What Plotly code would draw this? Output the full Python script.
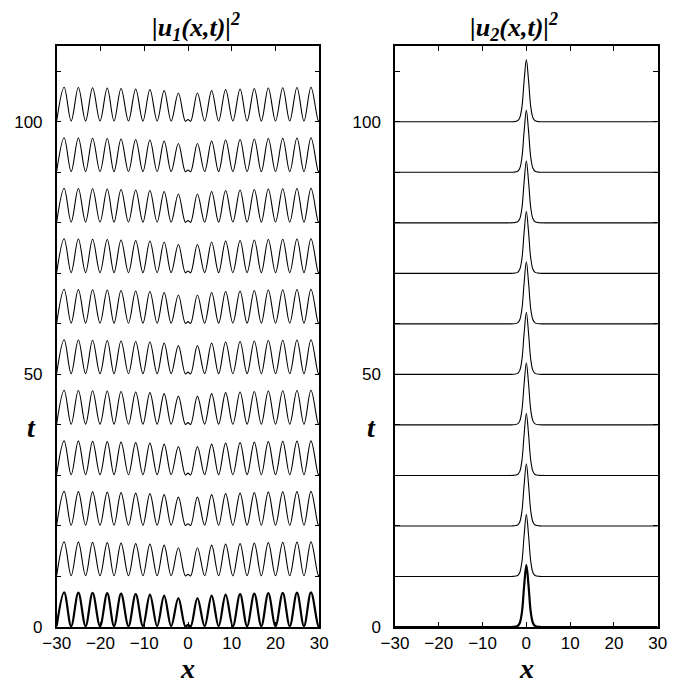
import plotly.graph_objects as go

# baseline times of the stacked profiles
t_levels = [0, 10, 20, 30, 40, 50, 60, 70, 80, 90, 100]

# |u1|^2 profile: knots (peaks / troughs)
u1_x = [-30.0, -28.3, -26.7, -25.05, -23.4, -21.8, -20.1, -18.45, -16.9, -15.3,
        -13.6, -11.95, -10.3, -8.7, -7.05, -5.45, -3.85, -2.2, -0.6, 0.0,
        0.6, 2.15, 3.8, 5.4, 7.0, 8.6, 10.25, 11.9, 13.5, 15.15,
        16.75, 18.35, 20.0, 21.65, 23.25, 24.9, 26.5, 28.1, 29.8, 30.0]
u1_y = [0.2, 6.85, 0.15, 6.8, 0.15, 6.75, 0.15, 6.7, 0.15, 6.6,
        0.15, 6.5, 0.15, 6.4, 0.15, 6.2, 0.15, 5.7, 0.1, 0.45,
        0.1, 5.7, 0.15, 6.2, 0.15, 6.4, 0.15, 6.5, 0.15, 6.6,
        0.15, 6.7, 0.15, 6.75, 0.15, 6.8, 0.15, 6.85, 0.15, 0.2]

# |u2|^2 profile: single bright peak at x = 0
u2_x = [-30.0, -4.0, -3.0, -2.0, -1.5, -1.0, -0.5, 0.0, 0.5, 1.0, 1.5, 2.0, 3.0, 4.0, 30.0]
u2_y = [0.0, 0.0, 0.02, 0.2, 0.8, 3.0, 8.2, 12.3, 8.2, 3.0, 0.8, 0.2, 0.02, 0.0, 0.0]

x_ticks = [-30, -20, -10, 0, 10, 20, 30]
t_ticks = [0, 50, 100]

panel_titles = ["<b><i>|u<sub>1</sub>(x,t)|<sup>2</sup></i></b>",
                "<b><i>|u<sub>2</sub>(x,t)|<sup>2</sup></i></b>"]

W, H = 695, 685
OFF = 8.0  # page body margin
def px(v):
    return (v - OFF) / W
def py(v):
    return 1 - (v - OFF) / H

dom_left = [px(56.7), px(319.3)]
dom_right = [px(395.0), px(657.7)]
dom_y = [py(627.0), py(46.0)]

fig = go.Figure()
for t in t_levels:
    w = 2.2 if t == 0 else 1.1
    fig.add_trace(go.Scatter(x=u1_x, y=[v + t for v in u1_y], mode="lines",
                             line=dict(color="black", width=w, shape="spline"),
                             xaxis="x", yaxis="y", showlegend=False, hoverinfo="skip"))
    fig.add_trace(go.Scatter(x=u2_x, y=[v + t for v in u2_y], mode="lines",
                             line=dict(color="black", width=w, shape="spline"),
                             xaxis="x2", yaxis="y2", showlegend=False, hoverinfo="skip"))

tickfont = dict(family="Liberation Sans, Arial", size=17, color="black")
common_x = dict(range=[-30, 30], tickvals=x_ticks, ticks="inside", ticklen=5,
                tickwidth=1, tickcolor="black", showline=True, linecolor="black",
                linewidth=1.5, mirror="ticks", showgrid=False, zeroline=False,
                tickfont=tickfont, automargin=False)
common_y = dict(range=[0, 115], tickvals=t_ticks,
                ticks="inside", ticklen=5, tickwidth=1, tickcolor="black",
                minor=dict(dtick=10, tick0=0, ticks="inside", ticklen=5,
                           tickwidth=1, tickcolor="black", showgrid=False),
                showline=True, linecolor="black", linewidth=1.5, mirror="ticks",
                showgrid=False, zeroline=False, tickfont=tickfont,
                automargin=False, ticklabelstandoff=9)

fig.update_layout(
    width=W, height=H,
    margin=dict(l=0, r=0, t=0, b=0),
    paper_bgcolor="white", plot_bgcolor="white",
    xaxis=dict(domain=dom_left, anchor="y", **common_x),
    yaxis=dict(domain=dom_y, anchor="x", **common_y),
    xaxis2=dict(domain=dom_right, anchor="y2", **common_x),
    yaxis2=dict(domain=dom_y, anchor="x2", **common_y),
)

serif = "Liberation Serif, Times New Roman, serif"
ann = []
for cx, title in zip([196.0, 514.0], panel_titles):
    ann.append(dict(text=title, x=px(cx), y=py(27.0), xref="paper", yref="paper",
                    xanchor="center", yanchor="middle", showarrow=False,
                    font=dict(family=serif, size=26, color="black")))
for cx in [187.5, 526.0]:
    ann.append(dict(text="<b><i>x</i></b>", x=px(cx), y=py(668.0), xref="paper",
                    yref="paper", xanchor="center", yanchor="middle", showarrow=False,
                    font=dict(family=serif, size=28, color="black")))
for cx in [31.0, 371.0]:
    ann.append(dict(text="<b><i>t</i></b>", x=px(cx), y=py(427.0), xref="paper",
                    yref="paper", xanchor="center", yanchor="middle", showarrow=False,
                    font=dict(family=serif, size=28, color="black")))
fig.update_layout(annotations=ann)

fig.write_html("out.html")
